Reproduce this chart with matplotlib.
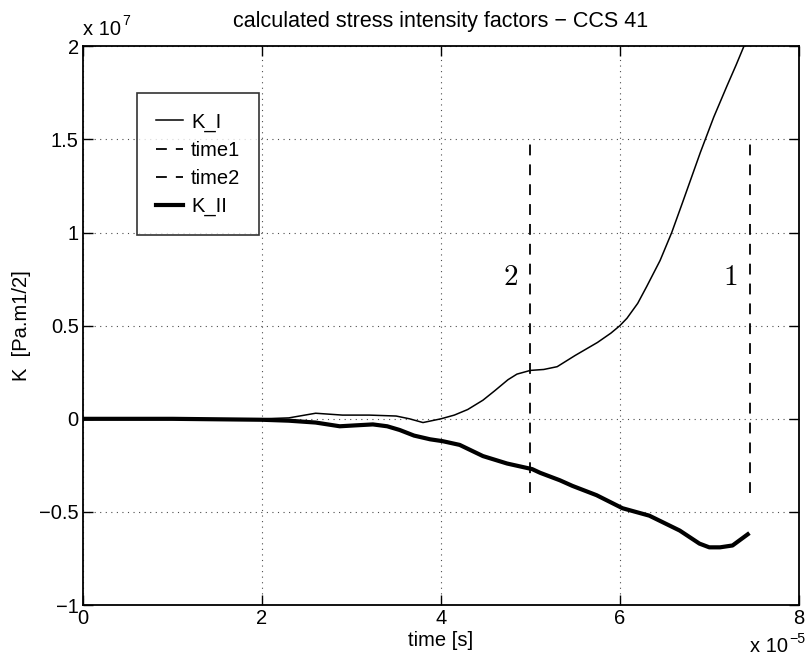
import matplotlib.pyplot as plt
from matplotlib.ticker import FuncFormatter

plt.rcParams["font.family"] = ["Liberation Sans", "DejaVu Sans"]
plt.rcParams["mathtext.fontset"] = "cm"

# time in units of 1e-5 s, K in units of 1e7 Pa.m^1/2
temps_KI = [0.0, 1.0, 2.0, 2.3, 2.6, 2.9, 3.2, 3.5, 3.65, 3.8, 4.0, 4.15, 4.3,
            4.47, 4.6, 4.75, 4.85, 5.0, 5.15, 5.3, 5.5, 5.75, 5.9, 6.0, 6.08,
            6.2, 6.3, 6.45, 6.58, 6.7, 6.9, 7.05, 7.2, 7.3, 7.43]
valeurs_KI = [0.0, 0.0, 0.0, 0.005, 0.03, 0.02, 0.02, 0.015, 0.0, -0.02, 0.0,
              0.02, 0.05, 0.1, 0.15, 0.21, 0.24, 0.26, 0.265, 0.28, 0.34, 0.41,
              0.46, 0.5, 0.54, 0.62, 0.71, 0.85, 1.0, 1.16, 1.43, 1.62, 1.79,
              1.9, 2.05]

temps_KII = [0.0, 1.0, 2.0, 2.3, 2.6, 2.87, 3.05, 3.24, 3.4, 3.54, 3.7, 3.88,
             4.02, 4.21, 4.47, 4.74, 5.02, 5.11, 5.33, 5.47, 5.74, 6.03, 6.33,
             6.5, 6.67, 6.89, 7.0, 7.12, 7.26, 7.43]
valeurs_KII = [0.0, 0.0, -0.005, -0.01, -0.02, -0.04, -0.035, -0.03, -0.04,
               -0.06, -0.09, -0.11, -0.12, -0.14, -0.2, -0.24, -0.27, -0.29,
               -0.33, -0.36, -0.41, -0.48, -0.52, -0.56, -0.6, -0.67, -0.69,
               -0.69, -0.68, -0.62]

temps_marques = [7.45, 5.0]
noms_marques = ["1", "2"]
marque_bas = -0.4
marque_haut = 1.5

TAILLE = 14.5

fig = plt.figure(figsize=(8.06, 6.62), dpi=100)
ax = fig.add_axes([0.103, 0.086, 0.888, 0.844])

ax.plot(temps_KI, valeurs_KI, color="black", lw=1.1, label="K_I")
ax.plot([temps_marques[0]] * 2, [marque_bas, marque_haut], color="black",
        lw=1.3, ls=(0, (6, 5)), label="time1")
ax.plot([temps_marques[1]] * 2, [marque_bas, marque_haut], color="black",
        lw=1.3, ls=(0, (6, 5)), label="time2")
ax.plot(temps_KII, valeurs_KII, color="black", lw=3.0, label="K_II")

# numeros des instants, a gauche de chaque ligne
for t, nom in zip(temps_marques, noms_marques):
    ax.text(t - 0.22, 0.76, r"$\mathbf{" + nom + "}$",
            fontsize=21, ha="center", va="center")

ax.set_xlim(0, 8)
ax.set_ylim(-1, 2)
ax.set_xticks([0, 2, 4, 6, 8])
ax.set_yticks([-1, -0.5, 0, 0.5, 1, 1.5, 2])
ax.yaxis.set_major_formatter(FuncFormatter(lambda v, p: ("%g" % v).replace("-", "\u2212")))
ax.tick_params(direction="in", top=True, right=True, length=7, width=1,
               labelsize=TAILLE, pad=3)
for s in ax.spines.values():
    s.set_linewidth(1.3)
ax.grid(True, color="black", ls=(0, (1, 4)), lw=0.8, alpha=0.7)

ax.set_title("calculated stress intensity factors \u2212 CCS 41", fontsize=15.5, pad=14)
ax.set_xlabel("time [s]", fontsize=TAILLE, labelpad=2)
ax.set_ylabel("K  [Pa.m1/2]", fontsize=TAILLE, labelpad=6)

# facteurs d'echelle des axes
t7 = ax.text(0.0, 1.014, "x 10", transform=ax.transAxes,
             fontsize=TAILLE, ha="left", va="bottom")
ax.annotate("7", xy=(1, 1), xycoords=t7, xytext=(1, -6),
            textcoords="offset points", fontsize=TAILLE * 0.7,
            ha="left", va="bottom")
t5 = ax.text(0.985, -0.058, "x 10", transform=ax.transAxes,
             fontsize=TAILLE, ha="right", va="top")
ax.annotate("\u22125", xy=(1, 1), xycoords=t5, xytext=(1, -6),
            textcoords="offset points", fontsize=TAILLE * 0.7,
            ha="left", va="bottom")

leg = ax.legend(loc="upper left", bbox_to_anchor=(0.075, 0.916), fontsize=TAILLE,
                frameon=True, fancybox=False, edgecolor="black",
                handlelength=1.35, labelspacing=0.45, borderpad=0.95,
                handletextpad=0.4, borderaxespad=0)
leg.get_frame().set_linewidth(1.2)

fig.savefig("out.png", dpi=100)
